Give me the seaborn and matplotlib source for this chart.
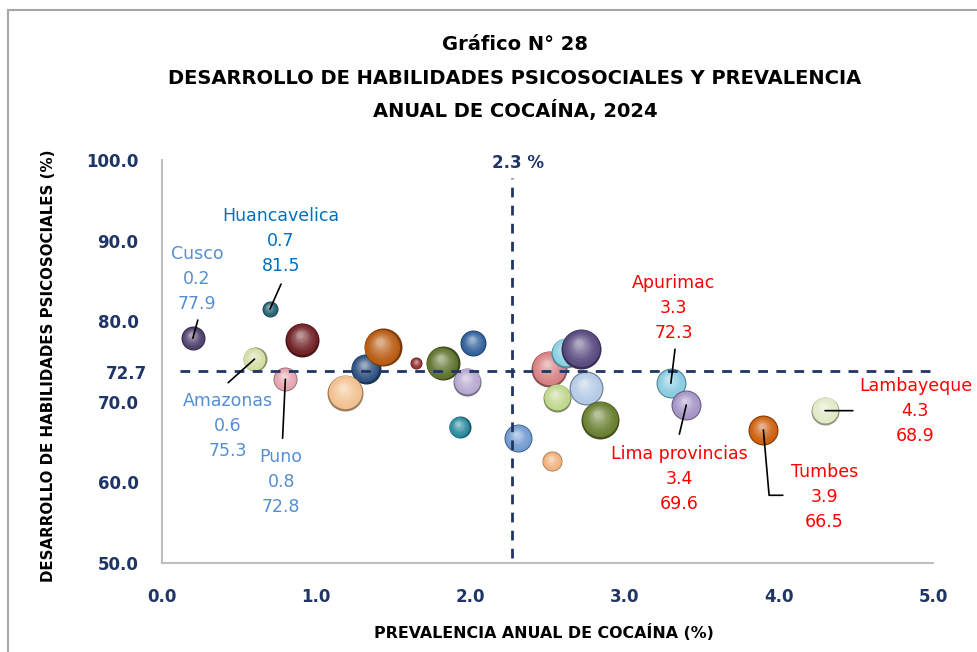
import numpy as np
import pandas as pd
import matplotlib
matplotlib.use('Agg')
import matplotlib.pyplot as plt
import seaborn as sns
from matplotlib.colors import to_rgb
from matplotlib.patches import Rectangle

# datos (prevalencia %, habilidades %, tamano de burbuja)
nombres = ['Cusco', 'Huancavelica', '', 'Amazonas', 'Puno', '', '', '', '', '',
           '', '', '', '', '', '', '', '', '', '', '',
           'Apurimac', 'Lima provincias', 'Tumbes', 'Lambayeque']
prevalencia = [0.2, 0.7, 0.91, 0.6, 0.8, 1.32, 1.19, 1.43, 1.65, 1.82,
               2.02, 1.98, 1.93, 2.31, 2.53, 2.51, 2.62, 2.72, 2.56, 2.75, 2.84,
               3.3, 3.4, 3.9, 4.3]
habilidades = [77.9, 81.5, 77.7, 75.3, 72.8, 74.1, 71.1, 76.8, 74.8, 74.8,
               77.3, 72.5, 66.9, 65.5, 62.6, 74.1, 76.1, 76.6, 70.5, 71.7, 67.8,
               72.3, 69.6, 66.5, 68.9]
peso = [144, 64, 289, 144, 144, 225, 324, 361, 36, 289,
        169, 196, 121, 196, 100, 324, 225, 400, 196, 289, 361,
        225, 225, 225, 196]
colores = ['#4d3d6b', '#1f5b6c', '#6e1e22', '#d3dea2', '#e3a3ad', '#2b4d7c',
           '#f2c08e', '#b8590f', '#8e2a2a', '#5c712a', '#2e609a', '#b6a7d0',
           '#27889c', '#6f9ad0', '#f0b07a', '#d77f80', '#86cfe2', '#57487f',
           '#bfd78d', '#b3c9e6', '#687e2e', '#87cbe0', '#a493c6', '#cc5e0c',
           '#dfe9c4']

media_x = 2.27
media_y = 73.8
etiqueta_x = '2.3 %'
etiqueta_y = '72.7'

df = pd.DataFrame({'x': prevalencia, 'y': habilidades, 'peso': peso, 'n': nombres})

sns.set_theme(style='white')
plt.rcParams['font.family'] = ['DejaVu Sans']

fig = plt.figure(figsize=(9.78, 6.52), dpi=100)
ax = fig.add_axes([162/978, 1-563/652, 771/978, 403/652])

k = 1.44**2
pmin, pmax = min(peso), max(peso)
sns.scatterplot(data=df, x='x', y='y', size='peso', sizes=(pmin*k, pmax*k),
                size_norm=(pmin, pmax), color='white', linewidth=0, legend=False, ax=ax)

ax.set_xlim(0, 5)
ax.set_ylim(50, 100)


def mezcla(c, o, t):
    c = np.array(to_rgb(c))
    return tuple(c*(1-t) + np.array(o)*t)


# esferas sombreadas, una por una para respetar el orden de dibujo
n_capas = 12
for i, (x, y, p, c) in enumerate(zip(prevalencia, habilidades, peso, colores)):
    s = p*k
    centro = ax.transData.transform((x, y))
    r_px = np.sqrt(s)/2/0.72
    for j in range(n_capas):
        f = 1 - j/n_capas*0.9
        if j == 0:
            col = mezcla(c, (0, 0, 0), 0.35)
        else:
            t = (j/n_capas)**1.6*0.6
            col = mezcla(c, (1, 1, 1), t)
        off = (1-f)*0.45*r_px
        pos = centro + np.array([-off*0.35, off*0.75])
        xd, yd = ax.transData.inverted().transform(pos)
        ax.scatter([xd], [yd], s=s*f**2, color=col, linewidth=0,
                   zorder=3 + i*0.01 + j*0.0005)

# lineas de referencia
navy = '#1f3566'
ax.axvline(media_x, ymin=0.012, ymax=0.955, color=navy, lw=2,
           linestyle=(0, (3.5, 3)), zorder=4)
ax.axhline(media_y, xmin=0.023, xmax=1.005, color=navy, lw=2,
           linestyle=(0, (3.5, 3)), zorder=4, clip_on=False)
ax.text(media_x + 0.04, 0.993, etiqueta_x, transform=ax.get_xaxis_transform(),
        ha='center', va='center', fontsize=12, fontweight='bold', color=navy)
ax.annotate(etiqueta_y, xy=(0, media_y), xycoords=('axes fraction', 'data'),
            xytext=(-11, -2), textcoords='offset points', ha='right', va='center',
            fontsize=12, fontweight='bold', color=navy)

# etiquetas de regiones
estilo = {
    'Cusco': ('#558ed5', (3, 42.5), (3.6, 13), None),
    'Huancavelica': ('#0070c0', (8, 49), (8, 18), None),
    'Amazonas': ('#558ed5', (-19.5, -48), (-19, -17), None),
    'Puno': ('#558ed5', (-3, -74), (-2, -42.5), None),
    'Apurimac': ('#ff0000', (2, 54), (3, 24.5), None),
    'Lima provincias': ('#ff0000', (-5, -53), (-5, -21), None),
    'Tumbes': ('#ff0000', (44, -48), (14, -47), 'angle,angleA=0,angleB=95,rad=0'),
    'Lambayeque': ('#ff0000', (65, 0), (20, 0), None),
}
for x, y, n in zip(prevalencia, habilidades, nombres):
    if not n:
        continue
    col, off_txt, off_lin, con = estilo[n]
    ax.annotate(f'{n}\n{x:.1f}\n{y:.1f}', xy=(x, y), xytext=off_txt,
                textcoords='offset points', ha='center', va='center',
                fontsize=12.5, color=col, linespacing=1.5, zorder=6)
    props = dict(arrowstyle='-', color='black', lw=1.2, shrinkA=0, shrinkB=0)
    if con:
        props['connectionstyle'] = con
    ax.annotate('', xy=(x, y), xytext=off_lin, textcoords='offset points',
                arrowprops=props, zorder=6)

# ejes
ax.set_xticks(np.arange(0, 5.01, 1))
ax.set_yticks(np.arange(50, 100.01, 10))
ax.set_xticklabels([f'{v:.1f}' for v in np.arange(0, 5.01, 1)])
ax.set_yticklabels([f'{v:.1f}' for v in np.arange(50, 100.01, 10)])
ax.tick_params(axis='x', length=0, pad=18, labelsize=12, labelcolor=navy)
ax.tick_params(axis='y', length=0, pad=17, labelsize=12, labelcolor=navy)
for lab in ax.get_xticklabels() + ax.get_yticklabels():
    lab.set_fontweight('bold')
for sp in ['top', 'right']:
    ax.spines[sp].set_visible(False)
for sp in ['left', 'bottom']:
    ax.spines[sp].set_color('#bfbfbf')
    ax.spines[sp].set_linewidth(1.5)
ax.grid(False)

ax.set_xlabel('PREVALENCIA ANUAL DE COCAÍNA (%)', fontsize=11.4, fontweight='bold', color='black')
ax.set_ylabel('DESARROLLO DE HABILIDADES PSICOSOCIALES (%)', fontsize=10.8, fontweight='bold', color='black')
ax.xaxis.set_label_coords(0.495, -0.152)
ax.yaxis.set_label_coords(-0.137, 0.49)

# titulo
for ty, t in zip([45, 78, 110], ['Gráfico N° 28',
                                 'DESARROLLO DE HABILIDADES PSICOSOCIALES Y PREVALENCIA',
                                 'ANUAL DE COCAÍNA, 2024']):
    fig.text(515/978, 1-ty/652, t, ha='center', va='center', fontsize=14,
             fontweight='bold', color='black')

# marco del grafico
fig.patches.append(Rectangle((8/978, -0.1), 1.2, 1-10/652+0.1, transform=fig.transFigure,
                             fill=False, edgecolor='#a6a6a6', lw=1.5))

fig.savefig('out.png', dpi=100)
